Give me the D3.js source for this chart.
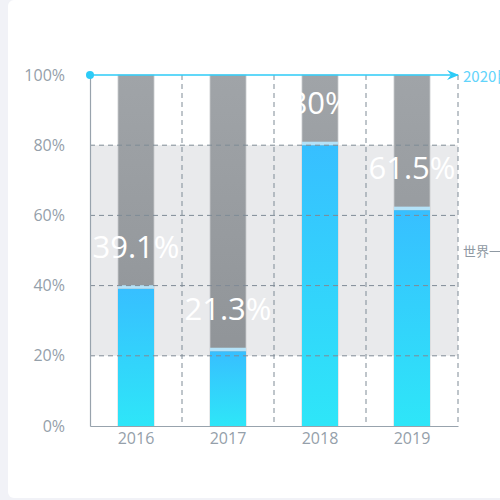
<!DOCTYPE html>
<html>
<head>
<meta charset="utf-8">
<script src="https://cdn.jsdelivr.net/npm/d3@7"></script>
<style>
  html, body { margin: 0; padding: 0; background: #f1f2f7; }
  #card { position: absolute; left: 8px; top: 0; width: 500px; height: 498px; background: #fff; border-radius: 6px; overflow: hidden; }
  svg { font-family: "Noto Sans CJK SC", "Noto Sans", sans-serif; }
</style>
</head>
<body>
<div id="card"><div id="chart"></div></div>
<script>
const years = ["2016", "2017", "2018", "2019"];
const values = [39.1, 21.3, 80, 61.5];
const yTicks = [0, 20, 40, 60, 80, 100];
const bandRange = [20, 80];       // shaded range
const targetValue = 100;          // 2020 target line
const targetLabel = "2020目标";
const bandLabel = "世界一流水平";

const width = 492, height = 498;
// card is offset 8px, so inner coordinates = page x - 8
const margin = { left: 82, right: 42, top: 75, bottom: 72 };

const svg = d3.select("#chart").append("svg")
  .attr("width", width).attr("height", height);

const x = d3.scaleBand().domain(years)
  .range([margin.left, width - margin.right]).paddingInner(0).paddingOuter(0);
const y = d3.scaleLinear().domain([0, 100])
  .range([height - margin.bottom, margin.top]);

const defs = svg.append("defs");
const blue = defs.append("linearGradient").attr("id", "blueGrad")
  .attr("x1", 0).attr("y1", 0).attr("x2", 0).attr("y2", 1);
blue.append("stop").attr("offset", "0%").attr("stop-color", "#37bfff");
blue.append("stop").attr("offset", "100%").attr("stop-color", "#2ee6f8");
const grey = defs.append("linearGradient").attr("id", "greyGrad")
  .attr("x1", 0).attr("y1", 0).attr("x2", 0).attr("y2", 1);
grey.append("stop").attr("offset", "0%").attr("stop-color", "#a0a4a8");
grey.append("stop").attr("offset", "100%").attr("stop-color", "#8c9094");

const barW = 36;
const labelColor = "#95a0aa";
const gridColor = "#7f8b96";

// shaded band behind the bars
svg.append("rect")
  .attr("x", x.range()[0])
  .attr("y", y(bandRange[1]))
  .attr("width", x.range()[1] - x.range()[0])
  .attr("height", y(bandRange[0]) - y(bandRange[1]))
  .attr("fill", "#e9eaec");

// background grey bars (full height)
svg.selectAll(".bg")
  .data(years)
  .enter()
  .append("rect")
  .attr("x", (d) => x(d) + x.bandwidth() / 2 - barW / 2)
  .attr("y", y(100))
  .attr("width", barW)
  .attr("height", y(0) - y(100))
  .attr("fill", "url(#greyGrad)")
  .attr("stroke", "#c8cbce")
  .attr("stroke-width", 0.8);

// value bars
svg.selectAll(".bar")
  .data(values)
  .enter()
  .append("rect")
  .attr("x", (d, i) => x(years[i]) + x.bandwidth() / 2 - barW / 2)
  .attr("y", (d) => y(d))
  .attr("width", barW)
  .attr("height", (d) => y(0) - y(d))
  .attr("fill", "url(#blueGrad)");

// light cap on top of each value bar
svg.selectAll(".cap")
  .data(values)
  .enter()
  .append("rect")
  .attr("x", (d, i) => x(years[i]) + x.bandwidth() / 2 - barW / 2)
  .attr("y", (d) => y(d) - 3.5)
  .attr("width", barW)
  .attr("height", 3.5)
  .attr("fill", "#b4e2f8");

// horizontal dashed gridlines
svg.selectAll(".hgrid")
  .data(yTicks.filter((t) => t > 0 && t < 100))
  .enter()
  .append("line")
  .attr("x1", x.range()[0]).attr("x2", x.range()[1])
  .attr("y1", (d) => y(d)).attr("y2", (d) => y(d))
  .attr("stroke", gridColor)
  .attr("stroke-width", 1)
  .attr("stroke-dasharray", "5,4");

// vertical dashed gridlines at band boundaries
svg.selectAll(".vgrid")
  .data(years)
  .enter()
  .append("line")
  .attr("x1", (d) => x(d) + x.bandwidth()).attr("x2", (d) => x(d) + x.bandwidth())
  .attr("y1", y(100)).attr("y2", y(0))
  .attr("stroke", gridColor)
  .attr("stroke-width", 1)
  .attr("stroke-dasharray", "5,4");

// axes
const yAxis = svg.append("g")
  .attr("transform", `translate(${margin.left},0)`)
  .call(d3.axisLeft(y).tickValues(yTicks).tickSize(0).tickPadding(25).tickFormat((d) => d + "%"));
const xAxis = svg.append("g")
  .attr("transform", `translate(0,${y(0)})`)
  .call(d3.axisBottom(x).tickSize(0).tickPadding(7));
[xAxis, yAxis].forEach((g) => {
  g.select(".domain").attr("stroke", "#98a3ad").attr("stroke-width", 1.2);
  g.selectAll("text").attr("fill", labelColor).style("font-size", "16px")
    .style("font-family", "'Open Sans', 'Noto Sans', sans-serif");
});

// value labels
svg.selectAll(".vlabel")
  .data(values)
  .enter()
  .append("text")
  .attr("x", (d, i) => x(years[i]) + x.bandwidth() / 2)
  .attr("y", (d) => y(d) - 43)
  .attr("text-anchor", "middle")
  .attr("dominant-baseline", "central")
  .attr("fill", "#fff")
  .style("font-size", "31px")
  .style("font-family", "'Open Sans', 'Noto Sans', sans-serif")
  .text((d) => d + "%");

// target line at 100%
const ty = y(targetValue);
defs.append("marker").attr("id", "arrow")
  .attr("viewBox", "0 0 12 10").attr("refX", 11).attr("refY", 5)
  .attr("markerWidth", 12).attr("markerHeight", 10).attr("markerUnits", "userSpaceOnUse")
  .attr("orient", "auto")
  .append("path").attr("d", "M0,0 L12,5 L0,10 L4,5 Z").attr("fill", "#2ccbf7");
svg.append("line")
  .attr("x1", x.range()[0]).attr("x2", x.range()[1])
  .attr("y1", ty).attr("y2", ty)
  .attr("stroke", "#2ccbf7").attr("stroke-width", 1.3)
  .attr("marker-end", "url(#arrow)");
svg.append("circle")
  .attr("cx", x.range()[0]).attr("cy", ty).attr("r", 4)
  .attr("fill", "#2ccbf7");
svg.append("text")
  .attr("x", x.range()[1] + 5).attr("y", ty)
  .attr("dominant-baseline", "central")
  .attr("fill", "#62d4fb")
  .style("font-size", "15px")
  .text(targetLabel);

// band label
svg.append("text")
  .attr("x", x.range()[1] + 5)
  .attr("y", y((bandRange[0] + bandRange[1]) / 2))
  .attr("dominant-baseline", "central")
  .attr("fill", "#8f99a3")
  .style("font-size", "13px")
  .text(bandLabel);
</script>
</body>
</html>
